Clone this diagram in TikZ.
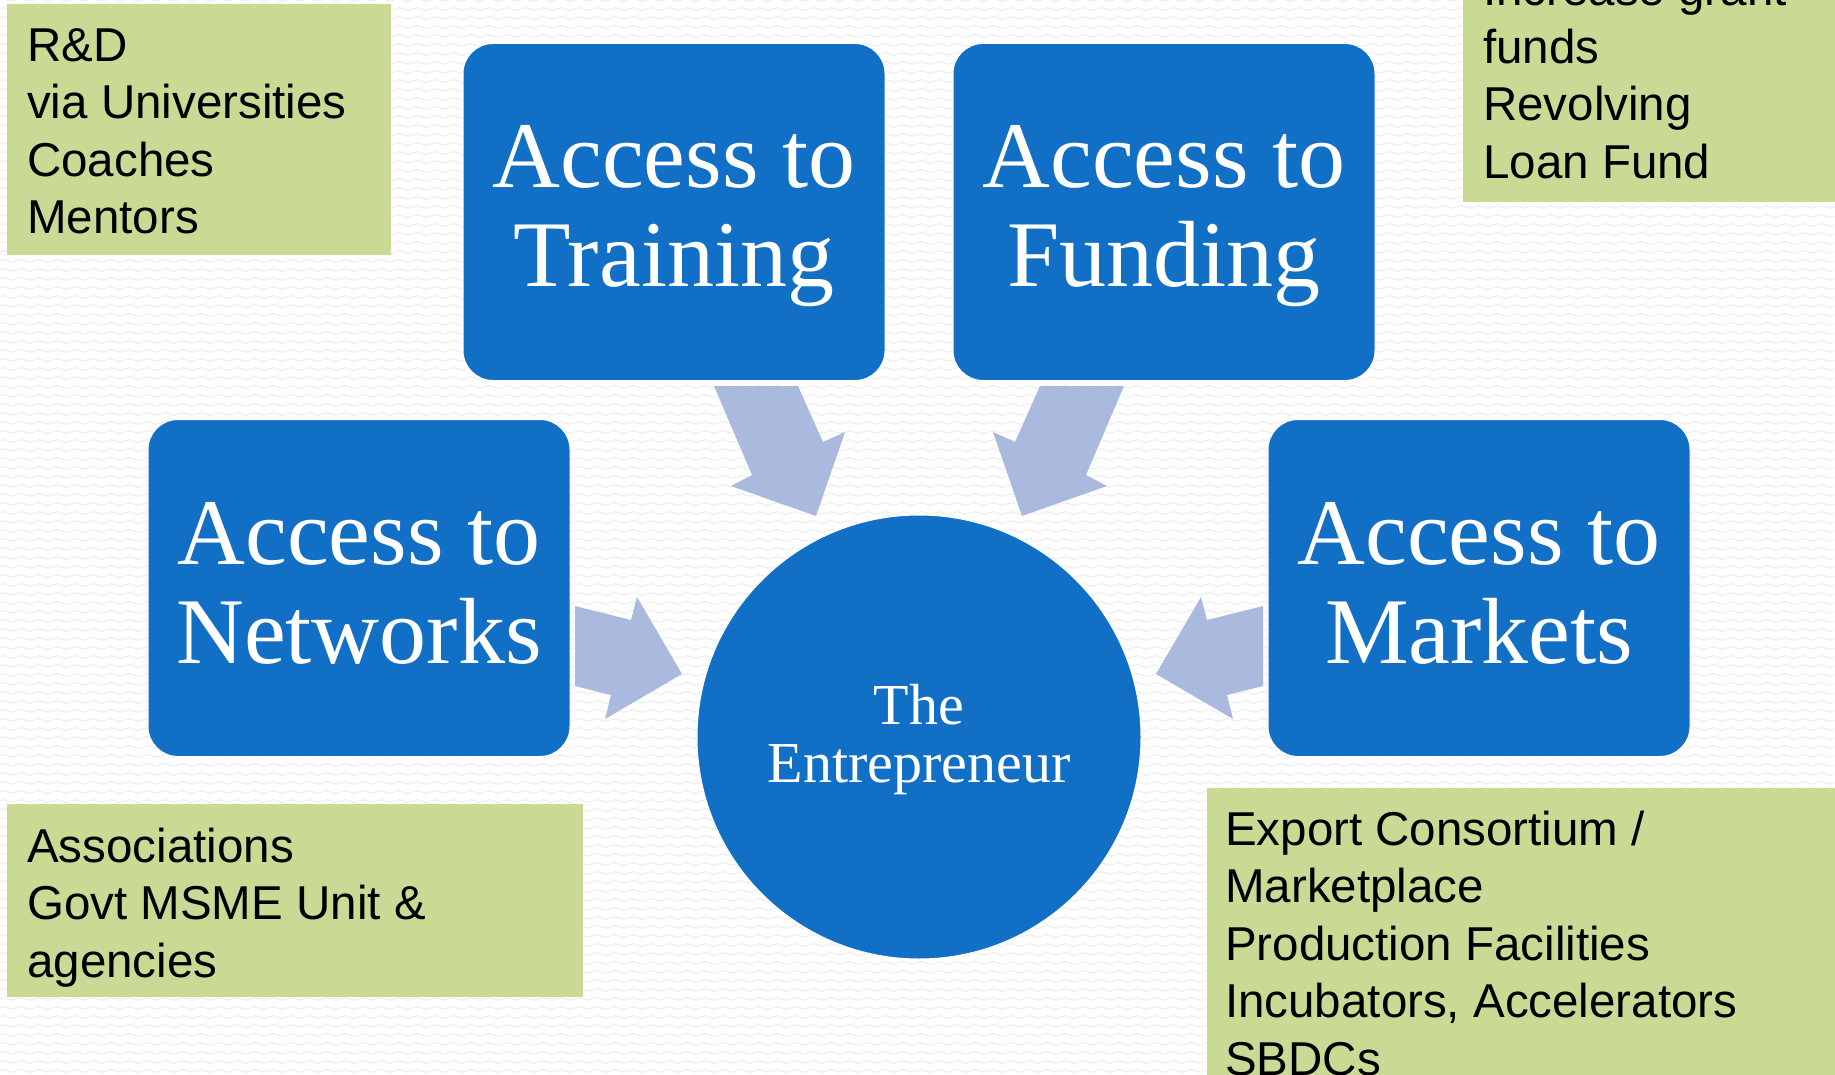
\documentclass[tikz,border=0pt]{standalone}
\usepackage{fontspec}
\setmainfont{Liberation Serif}
\newfontfamily\notefont{Liberation Sans}
\usetikzlibrary{calc,patterns}
\definecolor{boxblue}{RGB}{17,112,198}
\definecolor{notegreen}{RGB}{201,218,149}
\definecolor{arrowblue}{RGB}{170,186,222}
\definecolor{wavegray}{RGB}{234,234,234}
% one period of the backdrop ripple
\pgfdeclarepatternformonly{ripple}{\pgfpoint{0pt}{0pt}}{\pgfpoint{18pt}{9pt}}{\pgfpoint{18pt}{9pt}}{
  \pgfsetlinewidth{1pt}
  \pgfpathmoveto{\pgfpoint{0pt}{4.5pt}}
  \pgfpathcurveto{\pgfpoint{3pt}{6.5pt}}{\pgfpoint{6pt}{6.5pt}}{\pgfpoint{9pt}{4.5pt}}
  \pgfpathcurveto{\pgfpoint{12pt}{2.5pt}}{\pgfpoint{15pt}{2.5pt}}{\pgfpoint{18pt}{4.5pt}}
  \pgfusepath{stroke}
}
\begin{document}
\begin{tikzpicture}[x=1pt,y=-1pt,
  bluebox/.style={fill=boxblue, draw=white, line width=1pt, rounded corners=30pt,
    minimum width=422pt, minimum height=337pt, inner sep=0pt},
  titletext/.style={text=white, font=\fontsize{94}{98}\selectfont, inner sep=0pt, anchor=base},
  hubtext/.style={text=white, font=\fontsize{58}{56}\selectfont, inner sep=0pt, anchor=base},
  greenbox/.style={fill=notegreen, inner sep=0pt, anchor=north west},
  notetext/.style={font=\notefont\fontsize{47.5}{57.5}\selectfont, align=left,
    inner sep=0pt, anchor=north west},
  feed/.style={fill=arrowblue}
]
\useasboundingbox (0,0) rectangle (1835,1075);
\clip (0,0) rectangle (1835,1075);

% textured backdrop
\fill[white] (0,0) rectangle (1835,1075);
\fill[pattern=ripple, pattern color=wavegray] (0,0) rectangle (1835,1075);

% green note panels
\node[greenbox, minimum width=384pt, minimum height=251pt] (rdbox) at (7,4) {};
\node[notetext] (rdtext) at (27,20.75) {\strut R\&D\\via Universities\\Coaches\\Mentors};

\node[greenbox, minimum width=372pt, minimum height=202pt] (fundbox) at (1463,0) {};
\node[notetext] (fundtext) at (1483,-34.75) {\strut Increase grant\\funds\\Revolving\\Loan Fund};

\node[greenbox, minimum width=576pt, minimum height=193pt] (netbox) at (7,804) {};
\node[notetext] (nettext) at (27,821.75) {\strut Associations\\Govt MSME Unit \&\\agencies};

\node[greenbox, minimum width=640pt, minimum height=300pt] (mktbox) at (1207,788) {};
\node[notetext] (mkttext) at (1225,804.75) {\strut Export Consortium /\\Marketplace\\Production Facilities\\Incubators, Accelerators\\SBDCs};

% the four access blocks
\node[bluebox] (training) at (674,212) {};
\node[bluebox] (funding) at (1164,212) {};
\node[bluebox] (networks) at (359,588) {};
\node[bluebox] (markets) at (1479,588) {};

\foreach \b/\w in {training/Training, funding/Funding, networks/Networks, markets/Markets} {
  \node[titletext] (\b top) at ($(\b.north)+(0,145)$) {Access to};
  \node[titletext] (\b word) at ($(\b.north)+(0,244)$) {\w};
}

% block arrows pointing to the centre
\fill[feed] (714,386) -- (798,386) -- (823,442) -- (845,432) -- (816,516)
  -- (731,486) -- (752,475) -- cycle;
\fill[feed] (1124,386) -- (1040,386) -- (1015,442) -- (993,432) -- (1022,516)
  -- (1107,486) -- (1086,475) -- cycle;
\fill[feed] (575,606) -- (631,620) -- (637,597) -- (682,674) -- (605,719)
  -- (611,695) -- (575,686) -- cycle;
\fill[feed] (1263,606) -- (1207,620) -- (1201,597) -- (1156,674) -- (1233,719)
  -- (1227,695) -- (1263,686) -- cycle;

% the entrepreneur
\node[circle, fill=boxblue, draw=white, line width=1pt, minimum size=444pt, inner sep=0pt] (hub) at (919,737) {};
\node[hubtext] (hubA) at (919,724) {The};
\node[hubtext] (hubB) at (919,782) {Entrepreneur};
\end{tikzpicture}
\end{document}
